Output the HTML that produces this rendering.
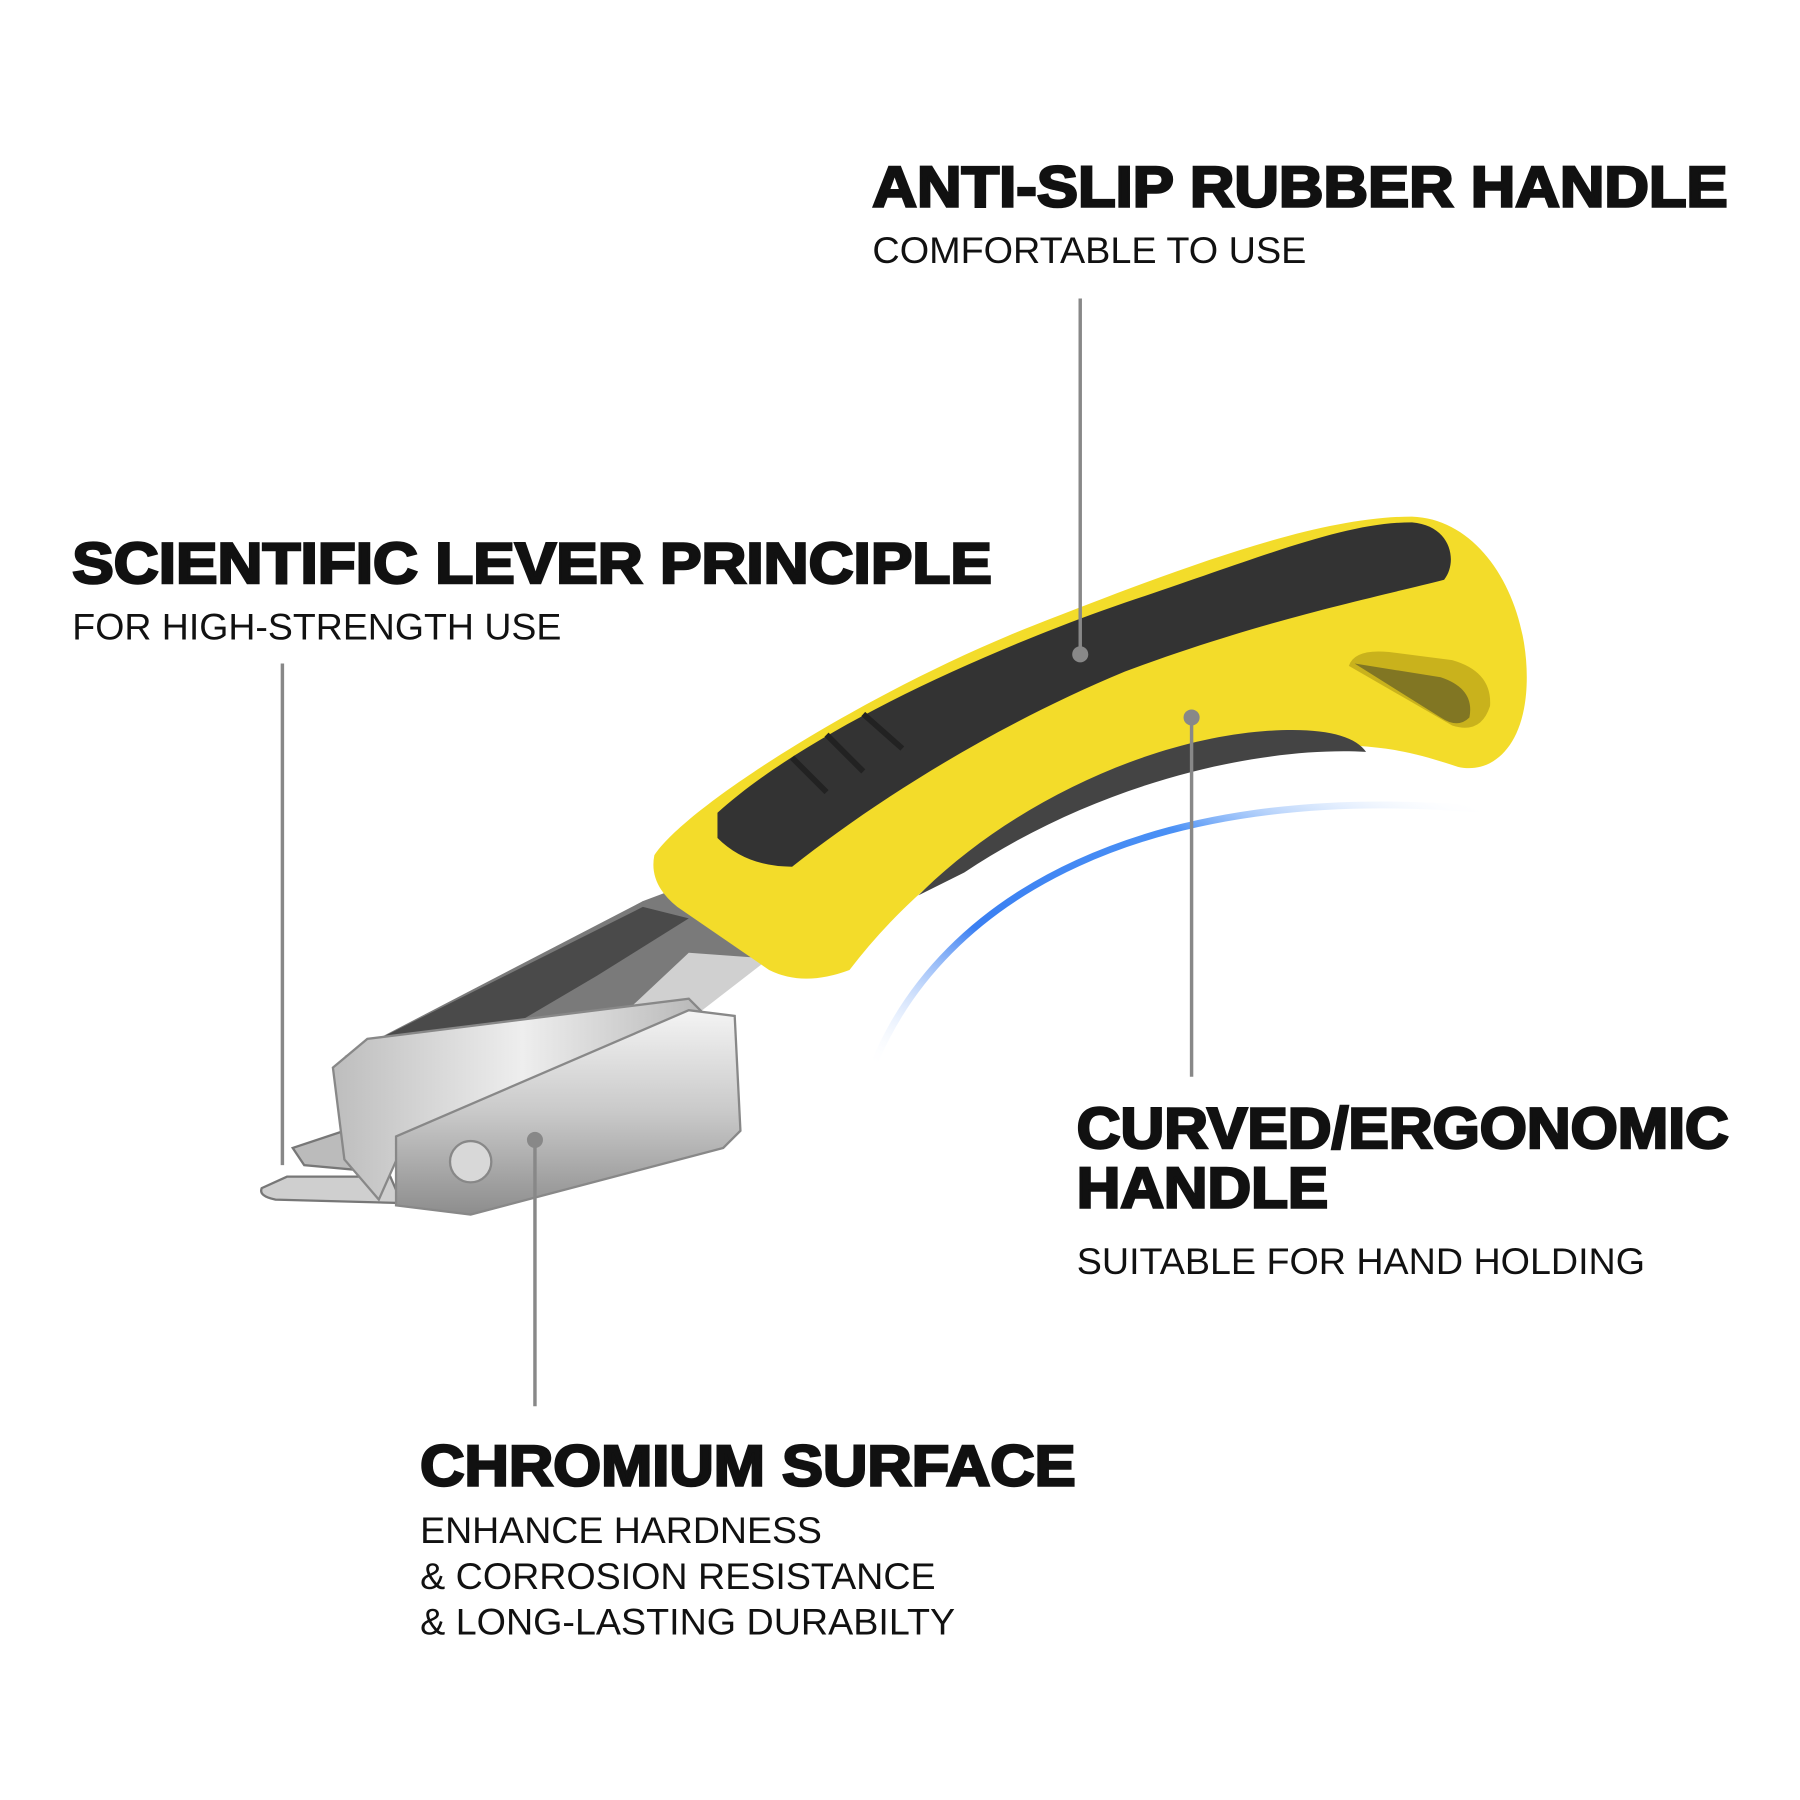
<!DOCTYPE html>
<html><head><meta charset="utf-8"><style>
html,body{margin:0;padding:0;background:#fff;}
svg{display:block;}
.h{font-family:"Liberation Sans",sans-serif;font-weight:bold;fill:#111;font-size:50px;stroke:#111;stroke-width:2.2px;}
.s{font-family:"Liberation Sans",sans-serif;fill:#111;font-size:32px;}
</style></head><body>
<svg width="1800" height="1800" viewBox="0 0 1568 1568" xmlns="http://www.w3.org/2000/svg">
<defs>
<linearGradient id="metal" x1="0" y1="0" x2="0" y2="1">
<stop offset="0" stop-color="#f4f4f4"/><stop offset="0.5" stop-color="#c9c9c9"/><stop offset="1" stop-color="#8d8d8d"/></linearGradient>
<linearGradient id="metal2" x1="0" y1="0" x2="1" y2="0">
<stop offset="0" stop-color="#bdbdbd"/><stop offset="0.5" stop-color="#eeeeee"/><stop offset="1" stop-color="#b5b5b5"/></linearGradient>
<linearGradient id="blue" x1="0" y1="1" x2="1" y2="0">
<stop offset="0" stop-color="#ffffff" stop-opacity="0"/><stop offset="0.35" stop-color="#3a7ff2"/><stop offset="0.7" stop-color="#4a90f5"/><stop offset="1" stop-color="#ffffff" stop-opacity="0"/></linearGradient>
</defs>

<path d="M760 930 C820 780 1000 680 1290 705" fill="none" stroke="url(#blue)" stroke-width="6"/>

<path d="M300 920 L560 785 L600 770 L680 830 L560 900 Z" fill="#7a7a7a"/>
<path d="M310 915 L560 790 L600 800 L520 850 L350 950 Z" fill="#4a4a4a"/>
<path d="M600 830 L670 835 L560 920 L520 905 Z" fill="#d0d0d0"/>
<path d="M228 1035 L250 1025 L340 1025 L350 1048 L240 1045 Q225 1042 228 1035 Z" fill="#cfcfcf" stroke="#777" stroke-width="2"/>
<path d="M255 1000 L300 985 L320 1020 L265 1015 Z" fill="#bbbbbb" stroke="#777" stroke-width="2"/>
<path d="M290 930 L320 905 L600 870 L620 890 L350 1000 L330 1045 L300 1010 Z" fill="url(#metal2)" stroke="#888" stroke-width="2"/>
<path d="M345 990 L600 880 L640 885 L645 985 L630 1000 L410 1058 L345 1050 Z" fill="url(#metal)" stroke="#888" stroke-width="2"/>
<circle cx="410" cy="1012" r="18" fill="#d8d8d8" stroke="#888" stroke-width="2"/>

<path d="M570 745 C600 700 760 600 900 545 C1040 490 1150 450 1230 450 C1290 452 1330 520 1330 590 C1330 650 1300 675 1270 668 C1230 655 1200 645 1100 650 C950 660 820 740 740 845 Q700 860 670 845 L590 790 Q565 770 570 745 Z" fill="#f3dc2a"/>
<path d="M625 708 C700 640 850 570 980 525 C1100 485 1170 455 1230 455 C1265 458 1270 490 1258 505 C1200 520 1100 540 980 585 C860 635 760 700 690 755 Q650 755 625 730 Z" fill="#333333"/>
<path d="M690 660 L720 690 M720 640 L752 672 M752 622 L786 652" stroke="#222" stroke-width="5"/>
<path d="M800 780 C880 700 1000 645 1100 637 C1150 633 1180 640 1190 655 C1100 650 960 680 840 760 Z" fill="#444"/>
<path d="M1175 580 Q1180 565 1210 568 L1265 575 Q1300 585 1298 615 Q1290 640 1265 632 Z" fill="#c9b21c"/>
<path d="M1180 578 L1255 590 Q1285 600 1280 625 Q1270 635 1255 625 Z" fill="#3a3a2a" opacity="0.5"/>

<g stroke="#888" stroke-width="3" fill="#888">
<line x1="941" y1="260" x2="941" y2="570"/><circle cx="941" cy="570" r="7" stroke="none"/>
<line x1="246" y1="578" x2="246" y2="1015"/>
<line x1="1038" y1="625" x2="1038" y2="938"/><circle cx="1038" cy="625" r="7" stroke="none"/>
<line x1="466" y1="993" x2="466" y2="1225"/><circle cx="466" cy="993" r="7" stroke="none"/>
</g>

<text class="h" x="760" y="180" textLength="745" lengthAdjust="spacingAndGlyphs">ANTI-SLIP RUBBER HANDLE</text>
<text class="s" x="760" y="229" textLength="378" lengthAdjust="spacingAndGlyphs">COMFORTABLE TO USE</text>
<text class="h" x="63" y="508" textLength="801" lengthAdjust="spacingAndGlyphs">SCIENTIFIC LEVER PRINCIPLE</text>
<text class="s" x="63" y="557" textLength="426" lengthAdjust="spacingAndGlyphs">FOR HIGH-STRENGTH USE</text>
<text class="h" x="938" y="1000" textLength="568" lengthAdjust="spacingAndGlyphs">CURVED/ERGONOMIC</text>
<text class="h" x="938" y="1052" textLength="219" lengthAdjust="spacingAndGlyphs">HANDLE</text>
<text class="s" x="938" y="1110" textLength="495" lengthAdjust="spacingAndGlyphs">SUITABLE FOR HAND HOLDING</text>
<text class="h" x="366" y="1294" textLength="571" lengthAdjust="spacingAndGlyphs">CHROMIUM SURFACE</text>
<text class="s" x="366" y="1344" textLength="350" lengthAdjust="spacingAndGlyphs">ENHANCE HARDNESS</text>
<text class="s" x="366" y="1384" textLength="449" lengthAdjust="spacingAndGlyphs">&amp; CORROSION RESISTANCE</text>
<text class="s" x="366" y="1424" textLength="466" lengthAdjust="spacingAndGlyphs">&amp; LONG-LASTING DURABILTY</text>
</svg>
</body></html>
